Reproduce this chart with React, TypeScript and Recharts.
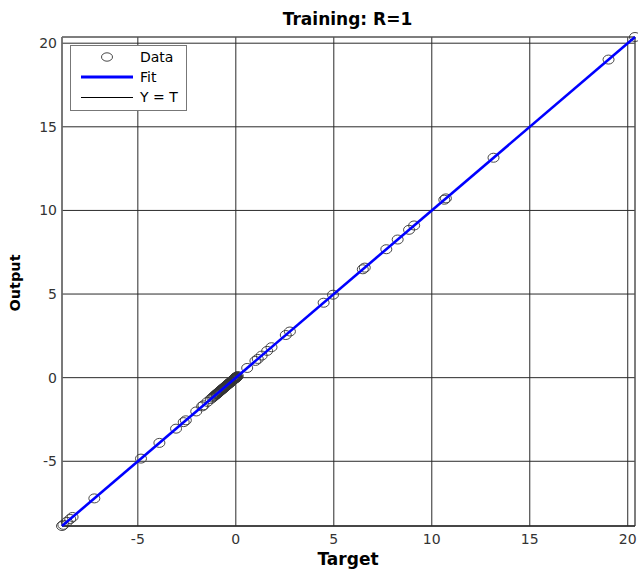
import React from 'react';
import { ScatterChart, Scatter, XAxis, YAxis, CartesianGrid, ReferenceArea } from 'recharts';

// Target values (x) and network outputs (y)
const targets = [
  -8.87, -8.8, -8.62, -8.45, -8.33, -7.22, -4.84, -3.9, -3.05, -2.66, -2.55, -2.02,
  -1.72, -1.65, -1.45, -1.28, -1.2, -1.15, -1.1, -1.05, -1.0, -0.98, -0.95, -0.92,
  -0.89, -0.86, -0.83, -0.8, -0.77, -0.74, -0.71, -0.68, -0.65, -0.62, -0.59, -0.56,
  -0.53, -0.5, -0.47, -0.44, -0.41, -0.38, -0.35, -0.33, -0.3, -0.28, -0.25, -0.23,
  -0.2, -0.18, -0.16, -0.14, -0.12, -0.1, -0.08, -0.07, -0.05, -0.04, -0.03, -0.02,
  -0.01, 0, 0.02, 0.03, 0.05, 0.06, 0.1, 0.58, 1.0, 1.12, 1.32, 1.6, 1.82, 2.55,
  2.76, 4.48, 4.96, 6.48, 6.58, 7.68, 8.26, 8.84, 9.1, 10.64, 10.72, 13.15, 19.02,
  20.37,
];
const outputs = [
  -8.87, -8.8, -8.62, -8.45, -8.33, -7.22, -4.84, -3.9, -3.05, -2.66, -2.55, -2.02,
  -1.72, -1.65, -1.45, -1.28, -1.2, -1.15, -1.1, -1.05, -1.0, -0.98, -0.95, -0.92,
  -0.89, -0.86, -0.83, -0.8, -0.77, -0.74, -0.71, -0.68, -0.65, -0.62, -0.59, -0.56,
  -0.53, -0.5, -0.47, -0.44, -0.41, -0.38, -0.35, -0.33, -0.3, -0.28, -0.25, -0.23,
  -0.2, -0.18, -0.16, -0.14, -0.12, -0.1, -0.08, -0.07, -0.05, -0.04, -0.03, -0.02,
  -0.01, 0, 0.02, 0.03, 0.05, 0.06, 0.1, 0.58, 1.0, 1.12, 1.32, 1.6, 1.82, 2.55,
  2.76, 4.48, 4.96, 6.48, 6.58, 7.68, 8.26, 8.84, 9.1, 10.64, 10.72, 13.15, 19.02,
  20.37,
];
const fitTargets = [-8.87, 20.37];
const fitOutputs = [-8.87, 20.37];
const identityValues = [-8.87, 20.37];
const xTicks = [-5, 0, 5, 10, 15, 20];
const yTicks = [-5, 0, 5, 10, 15, 20];
const axisDomain: [number, number] = [-8.87, 20.37];

const dataPoints = targets.map((t, i) => ({ x: t, y: outputs[i] }));
const fitPoints = fitTargets.map((t, i) => ({ x: t, y: fitOutputs[i] }));
const identityPoints = identityValues.map((v) => ({ x: v, y: v }));

const Ring = (props: any) => {
  const { cx, cy } = props;
  if (cx == null || cy == null) return <g />;
  return <ellipse cx={cx} cy={cy} rx={5.5} ry={4.5} fill="none" stroke="#333" strokeWidth={0.9} />;
};
const NoShape = () => <g />;

const tickStyle = { fontFamily: 'DejaVu Sans', fontSize: 14, fill: '#333' };

export default function App() {
  return (
    <div style={{ position: 'absolute', left: 0, top: 0, width: 638, height: 570, background: '#fff' }}>
      <ScatterChart width={638} height={570} margin={{ top: 37, right: 3, left: 0, bottom: 0 }}>
        <CartesianGrid stroke="#2a2a2a" strokeWidth={1} />
        <XAxis
          type="number"
          dataKey="x"
          domain={axisDomain}
          ticks={xTicks}
          height={44}
          tickLine={false}
          tickSize={0}
          tickMargin={8}
          axisLine={{ stroke: '#111' }}
          tick={tickStyle}
        />
        <YAxis
          type="number"
          dataKey="y"
          domain={axisDomain}
          ticks={yTicks}
          width={62}
          tickLine={false}
          tickSize={0}
          tickMargin={5}
          axisLine={{ stroke: '#777' }}
          tick={tickStyle}
        />
        <Scatter data={dataPoints} shape={Ring} isAnimationActive={false} />
        <Scatter
          data={identityPoints}
          shape={NoShape}
          line={{ stroke: '#000', strokeWidth: 1 }}
          isAnimationActive={false}
        />
        <Scatter
          data={fitPoints}
          shape={NoShape}
          line={{ stroke: '#0000ff', strokeWidth: 2.6 }}
          isAnimationActive={false}
        />
        <ReferenceArea
          x1={axisDomain[0]}
          x2={axisDomain[1]}
          y1={axisDomain[0]}
          y2={axisDomain[1]}
          fill="none"
          stroke="#666"
          strokeWidth={1}
        />
      </ScatterChart>
      <svg
        width={638}
        height={570}
        style={{ position: 'absolute', left: 0, top: 0, pointerEvents: 'none' }}
      >
        <text x={347.5} y={25} textAnchor="middle" fontFamily="DejaVu Sans" fontWeight="bold" fontSize={17} fill="#000">
          Training: R=1
        </text>
        <text x={348} y={565} textAnchor="middle" fontFamily="DejaVu Sans" fontWeight="bold" fontSize={17} fill="#000">
          Target
        </text>
        <text
          x={0}
          y={0}
          transform="translate(20,283) rotate(-90)"
          textAnchor="middle"
          fontFamily="DejaVu Sans"
          fontWeight="bold"
          fontSize={14.5}
          fill="#000"
        >
          Output
        </text>
        <g transform="translate(70,45)">
          <rect x={0.5} y={0.5} width={116} height={65} fill="#fff" stroke="#777" strokeWidth={1} />
          <ellipse cx={37} cy={12} rx={5.5} ry={4.2} fill="none" stroke="#333" strokeWidth={0.9} />
          <line x1={11} y1={32} x2={63} y2={32} stroke="#0000ff" strokeWidth={3} />
          <line x1={11} y1={52.5} x2={63} y2={52.5} stroke="#000" strokeWidth={1} />
          <text x={70} y={17.3} fontFamily="DejaVu Sans" fontSize={14} fill="#000">Data</text>
          <text x={70} y={37.3} fontFamily="DejaVu Sans" fontSize={14} fill="#000">Fit</text>
          <text x={70} y={57.3} fontFamily="DejaVu Sans" fontSize={14} fill="#000">Y = T</text>
        </g>
      </svg>
    </div>
  );
}
